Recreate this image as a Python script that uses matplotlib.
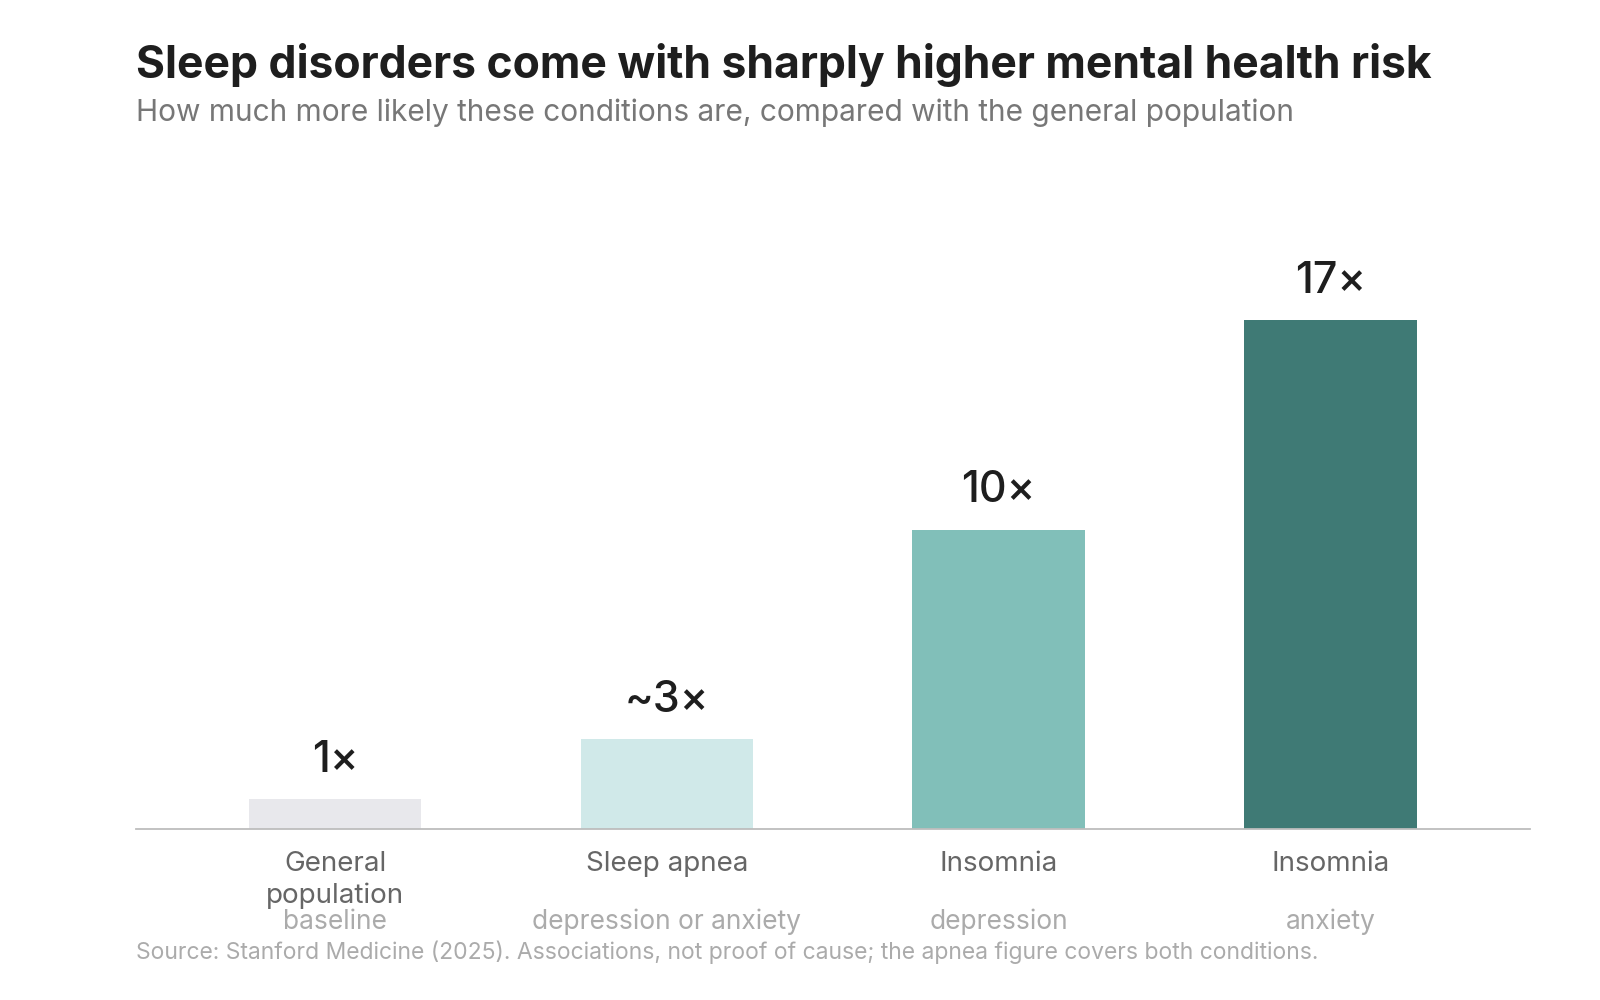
import matplotlib.pyplot as plt

categories = ["General\npopulation", "Sleep apnea", "Insomnia", "Insomnia"]
conditions = ["baseline", "depression or anxiety", "depression", "anxiety"]
risk = [1, 3, 10, 17]
risk_labels = ["1×", "~3×", "10×", "17×"]
bar_colors = ["#E8E8EC", "#D0E9E9", "#81BFB9", "#3F7A75"]

plt.rcParams['font.family'] = ['Inter', 'DejaVu Sans']

fig = plt.figure(figsize=(16, 10), dpi=100)
ax = fig.add_axes([0.085, 0.171, 0.871, 0.599])

x = list(range(len(risk)))
ax.bar(x, risk, width=0.52, color=bar_colors, edgecolor="none", zorder=2)

# value labels above bars
for xi, v, lab in zip(x, risk, risk_labels):
    ax.annotate(lab, (xi, v), xytext=(0, 13), textcoords="offset points",
                ha="center", va="bottom", fontsize=31, color="#1E1E1E",
                fontweight="medium")

ax.set_xlim(-0.6, 3.6)
ax.set_ylim(0, 20)
for s in ["top", "right", "left"]:
    ax.spines[s].set_visible(False)
ax.spines["bottom"].set_color("#BDBDBD")
ax.spines["bottom"].set_linewidth(1.3)
ax.set_xticks([])
ax.set_yticks([])

tr = ax.get_xaxis_transform()
for xi, cat, cond in zip(x, categories, conditions):
    ax.text(xi, -0.036, cat, transform=tr, ha="center", va="top",
            fontsize=20, color="#666666", linespacing=1.3)
    ax.text(xi, -0.155, cond, transform=tr, ha="center", va="center",
            fontsize=19, color="#ABABAB")

fig.text(0.085, 0.935, "Sleep disorders come with sharply higher mental health risk",
         ha="left", va="center", fontsize=32, fontweight="bold", color="#1E1E1E")
fig.text(0.085, 0.887, "How much more likely these conditions are, compared with the general population",
         ha="left", va="center", fontsize=21.5, color="#777777")
fig.text(0.085, 0.048, "Source: Stanford Medicine (2025). Associations, not proof of cause; the apnea figure covers both conditions.",
         ha="left", va="center", fontsize=16.5, color="#ABABAB")

fig.savefig("out.png", dpi=100, facecolor="white")
